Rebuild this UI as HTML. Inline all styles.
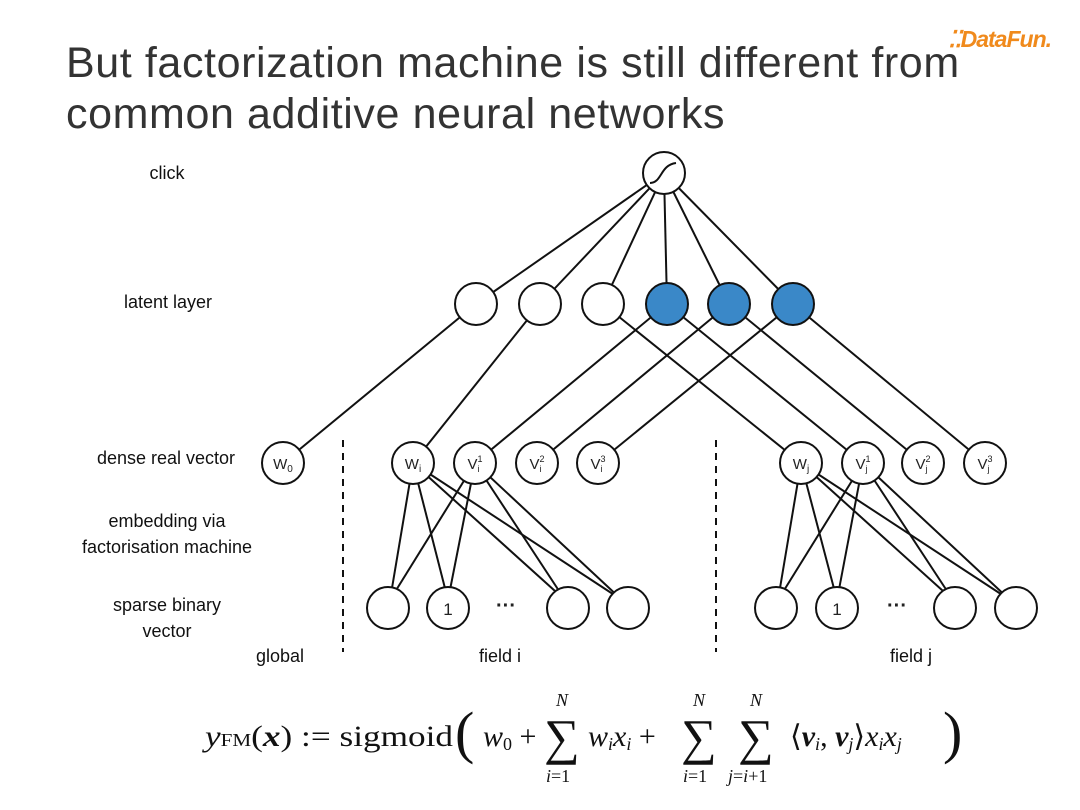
<!DOCTYPE html>
<html><head><meta charset="utf-8"><style>
body{margin:0;background:#fff;}
#w{position:relative;width:1080px;height:810px;overflow:hidden;font-family:"Liberation Sans",sans-serif;}
.t{position:absolute;left:66px;font-size:43px;color:#333;font-weight:normal;line-height:50px;letter-spacing:0.6px;white-space:nowrap}
</style></head><body><div id="w">
<div class="t" style="top:38px">But factorization machine is still different from</div>
<div class="t" style="top:89px">common additive neural networks</div>
<div style="position:absolute;left:948px;top:26px;font-size:23px;font-weight:bold;font-style:italic;color:#f08a1c;letter-spacing:-1px">⁚⁚DataFun.</div>
<svg width="1080" height="810" style="position:absolute;left:0;top:0" font-family="Liberation Sans, sans-serif">
<g stroke="#111" stroke-width="2" fill="none">
<line x1="664" y1="173" x2="476" y2="304"/><line x1="664" y1="173" x2="540" y2="304"/><line x1="664" y1="173" x2="603" y2="304"/><line x1="664" y1="173" x2="667" y2="304"/><line x1="664" y1="173" x2="729" y2="304"/><line x1="664" y1="173" x2="793" y2="304"/>
<line x1="476" y1="304" x2="283" y2="463"/><line x1="540" y1="304" x2="413" y2="463"/><line x1="603" y1="304" x2="801" y2="463"/>
<line x1="667" y1="304" x2="475" y2="463"/><line x1="667" y1="304" x2="863" y2="463"/>
<line x1="729" y1="304" x2="537" y2="463"/><line x1="729" y1="304" x2="923" y2="463"/>
<line x1="793" y1="304" x2="598" y2="463"/><line x1="793" y1="304" x2="985" y2="463"/>
<line x1="413" y1="463" x2="390" y2="600"/><line x1="413" y1="463" x2="448" y2="600"/><line x1="413" y1="463" x2="565" y2="600"/><line x1="413" y1="463" x2="622" y2="600"/>
<line x1="475" y1="463" x2="390" y2="600"/><line x1="475" y1="463" x2="448" y2="600"/><line x1="475" y1="463" x2="565" y2="600"/><line x1="475" y1="463" x2="622" y2="600"/>
<line x1="801" y1="463" x2="778" y2="600"/><line x1="801" y1="463" x2="837" y2="600"/><line x1="801" y1="463" x2="953" y2="600"/><line x1="801" y1="463" x2="1010" y2="600"/>
<line x1="863" y1="463" x2="778" y2="600"/><line x1="863" y1="463" x2="837" y2="600"/><line x1="863" y1="463" x2="953" y2="600"/><line x1="863" y1="463" x2="1010" y2="600"/>
</g>
<g stroke="#111" stroke-width="2" stroke-dasharray="7,6"><line x1="343" y1="440" x2="343" y2="652"/><line x1="716" y1="440" x2="716" y2="652"/></g>
<g stroke="#111" stroke-width="2" fill="#fff">
<circle cx="664" cy="173" r="21"/>
<circle cx="476" cy="304" r="21"/><circle cx="540" cy="304" r="21"/><circle cx="603" cy="304" r="21"/>
<circle cx="667" cy="304" r="21" fill="#3a88c8"/><circle cx="729" cy="304" r="21" fill="#3a88c8"/><circle cx="793" cy="304" r="21" fill="#3a88c8"/>
<circle cx="283" cy="463" r="21"/><circle cx="413" cy="463" r="21"/><circle cx="475" cy="463" r="21"/><circle cx="537" cy="463" r="21"/><circle cx="598" cy="463" r="21"/>
<circle cx="801" cy="463" r="21"/><circle cx="863" cy="463" r="21"/><circle cx="923" cy="463" r="21"/><circle cx="985" cy="463" r="21"/>
<circle cx="388" cy="608" r="21"/><circle cx="448" cy="608" r="21"/><circle cx="568" cy="608" r="21"/><circle cx="628" cy="608" r="21"/>
<circle cx="776" cy="608" r="21"/><circle cx="837" cy="608" r="21"/><circle cx="955" cy="608" r="21"/><circle cx="1016" cy="608" r="21"/>
</g>
<path d="M650 183 C662 183,660 165,676 163" stroke="#111" stroke-width="2" fill="none"/>
<g font-size="15" fill="#222" text-anchor="middle">
<text x="283" y="469">W<tspan font-size="10" dy="3">0</tspan></text>
<text x="413" y="469">W<tspan font-size="10" dy="3">i</tspan></text>
<text x="475" y="469">V<tspan font-size="9" dy="-7">1</tspan><tspan font-size="9" dx="-5" dy="10">i</tspan></text>
<text x="537" y="469">V<tspan font-size="9" dy="-7">2</tspan><tspan font-size="9" dx="-5" dy="10">i</tspan></text>
<text x="598" y="469">V<tspan font-size="9" dy="-7">3</tspan><tspan font-size="9" dx="-5" dy="10">i</tspan></text>
<text x="801" y="469">W<tspan font-size="10" dy="3">j</tspan></text>
<text x="863" y="469">V<tspan font-size="9" dy="-7">1</tspan><tspan font-size="9" dx="-5" dy="10">j</tspan></text>
<text x="923" y="469">V<tspan font-size="9" dy="-7">2</tspan><tspan font-size="9" dx="-5" dy="10">j</tspan></text>
<text x="985" y="469">V<tspan font-size="9" dy="-7">3</tspan><tspan font-size="9" dx="-5" dy="10">j</tspan></text>
<text x="448" y="615" font-size="17">1</text><text x="837" y="615" font-size="17">1</text>
<text x="506" y="612" font-size="20" font-weight="bold">···</text><text x="897" y="612" font-size="20" font-weight="bold">···</text>
</g>
<g font-size="18" fill="#111" text-anchor="middle">
<text x="167" y="179">click</text>
<text x="168" y="308">latent layer</text>
<text x="166" y="464">dense real vector</text>
<text x="167" y="527">embedding via</text>
<text x="167" y="553">factorisation machine</text>
<text x="167" y="611">sparse binary</text>
<text x="167" y="637">vector</text>
<text x="280" y="662">global</text>
<text x="500" y="662">field i</text>
<text x="911" y="662">field j</text>
</g>
<g font-family="Liberation Serif, serif" fill="#111">
<text x="205" y="746" font-size="30" textLength="248" lengthAdjust="spacingAndGlyphs"><tspan font-style="italic">y</tspan><tspan font-size="18">FM</tspan>(<tspan font-style="italic" font-weight="bold">x</tspan>) := sigmoid</text>
<text x="455" y="752" font-size="58">(</text>
<text x="483" y="746" font-size="30"><tspan font-style="italic">w</tspan><tspan font-size="18" dy="4">0</tspan><tspan dy="-4"> +</tspan></text>
<text x="544" y="754" font-size="50">∑</text>
<text x="556" y="706" font-size="18" font-style="italic">N</text>
<text x="546" y="782" font-size="18"><tspan font-style="italic">i</tspan>=1</text>
<text x="588" y="746" font-size="30" font-style="italic">w<tspan font-size="18" dy="4">i</tspan><tspan dy="-4">x</tspan><tspan font-size="18" dy="4">i</tspan><tspan dy="-4" font-style="normal"> +</tspan></text>
<text x="681" y="754" font-size="50">∑</text>
<text x="693" y="706" font-size="18" font-style="italic">N</text>
<text x="683" y="782" font-size="18"><tspan font-style="italic">i</tspan>=1</text>
<text x="738" y="754" font-size="50">∑</text>
<text x="750" y="706" font-size="18" font-style="italic">N</text>
<text x="728" y="782" font-size="18"><tspan font-style="italic">j</tspan>=<tspan font-style="italic">i</tspan>+1</text>
<text x="790" y="746" font-size="30">⟨<tspan font-weight="bold" font-style="italic">v</tspan><tspan font-size="18" font-style="italic" dy="4">i</tspan><tspan dy="-4">, </tspan><tspan font-weight="bold" font-style="italic">v</tspan><tspan font-size="18" font-style="italic" dy="4">j</tspan><tspan dy="-4">⟩</tspan><tspan font-style="italic">x</tspan><tspan font-size="18" font-style="italic" dy="4">i</tspan><tspan font-style="italic" dy="-4">x</tspan><tspan font-size="18" font-style="italic" dy="4">j</tspan></text>
<text x="943" y="752" font-size="58">)</text>
</g>
</svg>
</div></body></html>
